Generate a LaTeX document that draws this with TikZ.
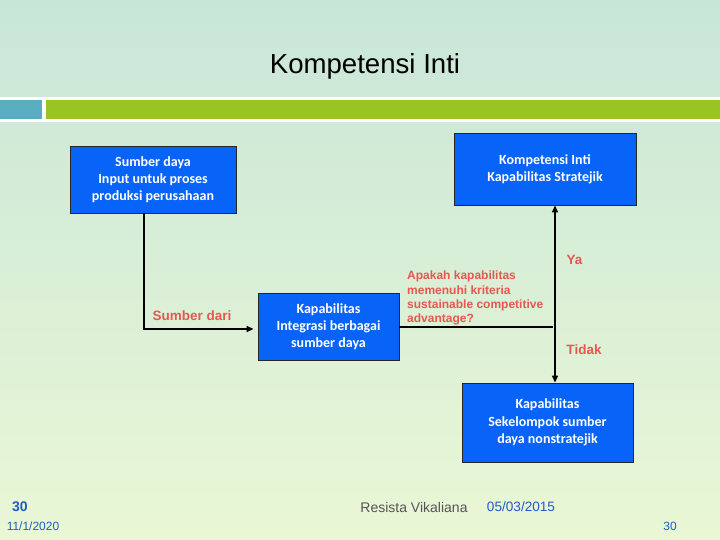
\documentclass[tikz,border=0pt]{standalone}
\usepackage{fontspec}
\setmainfont{Liberation Sans}
\newfontfamily\boxfont{Carlito}
\usetikzlibrary{arrows.meta,calc}
\definecolor{bgtop}{RGB}{200,230,216}
\definecolor{bgbot}{RGB}{234,247,213}
\definecolor{barteal}{RGB}{88,174,192}
\definecolor{bargreen}{RGB}{154,196,36}
\definecolor{boxblue}{RGB}{8,100,248}
\definecolor{redtxt}{RGB}{230,88,80}
\definecolor{footblue}{RGB}{30,92,200}
\definecolor{footgray}{RGB}{85,85,85}
\tikzset{
  bluebox/.style={draw=black!85, line width=0.9pt, fill=boxblue, text=white,
    font=\boxfont\bfseries\fontsize{14}{17.3}\selectfont, align=center, inner sep=0pt},
  conn/.style={draw=black, line width=1.4pt},
  tip/.tip={Triangle[length=7pt,width=6pt]},
  redlabel/.style={text=redtxt, font=\bfseries\fontsize{13.5}{16}\selectfont, inner sep=0pt},
  qlabel/.style={text=redtxt, font=\bfseries\fontsize{12}{14.3}\selectfont, align=left, inner sep=0pt},
}
\begin{document}
\begin{tikzpicture}[x=1pt,y=-1pt]
\useasboundingbox (0,0) rectangle (720,540);
\shade[top color=bgtop, bottom color=bgbot] (0,0) rectangle (720,540);
% header
\node[font=\fontsize{27.6}{30}\selectfont] (title) at (365,66) {Kompetensi Inti};
\fill[white] (0,97) rectangle (720,122);
\fill[barteal] (0,100) rectangle (42,119);
\fill[bargreen] (46,100) rectangle (720,119);
% boxes
\node[bluebox, minimum width=166pt, minimum height=67pt] (b1) at (153,179.5)
  {Sumber daya\\Input untuk proses\\produksi perusahaan};
\node[bluebox, minimum width=182pt, minimum height=72pt] (b2) at (545,169)
  {Kompetensi Inti\\Kapabilitas Stratejik};
\node[bluebox, minimum width=141pt, minimum height=67pt] (b3) at (328.5,326.5)
  {Kapabilitas\\Integrasi berbagai\\sumber daya};
\node[bluebox, minimum width=171pt, minimum height=79pt] (b4) at (547.5,422.5)
  {Kapabilitas\\Sekelompok sumber\\daya nonstratejik};
% connectors
\coordinate (c1) at (144,329);
\draw[conn, -tip, shorten >=4pt] (b1.south -| c1) -- (c1) -- (c1 -| b3.west);
\coordinate (vx) at (555,0);
\draw[conn, tip-tip] (b2.south -| vx) -- (b4.north -| vx);
\coordinate (hend) at (553,327);
\draw[conn, line width=1.1pt] (b3.east |- hend) -- (hend);
% labels
\node[redlabel] (lsd) at (192,316) {Sumber dari};
\node[qlabel, anchor=north west] (q) at (407,271)
  {Apakah kapabilitas\\memenuhi kriteria\\sustainable competitive\\advantage?};
\node[redlabel] (ya) at (574.5,260) {Ya};
\node[redlabel] (tidak) at (584,350) {Tidak};
% footer
\node[text=footblue, font=\bfseries\fontsize{14}{16}\selectfont] (n1) at (20,507) {30};
\node[text=footblue, font=\fontsize{12}{14}\selectfont] (d1) at (33,526) {11/1/2020};
\node[text=footgray, font=\fontsize{14}{16}\selectfont] (auth) at (414,507) {Resista Vikaliana};
\node[text=footblue, font=\fontsize{13.6}{16}\selectfont] (d2) at (521,507) {05/03/2015};
\node[text=footblue, font=\fontsize{12}{14}\selectfont] (n2) at (670,526) {30};
\end{tikzpicture}
\end{document}
